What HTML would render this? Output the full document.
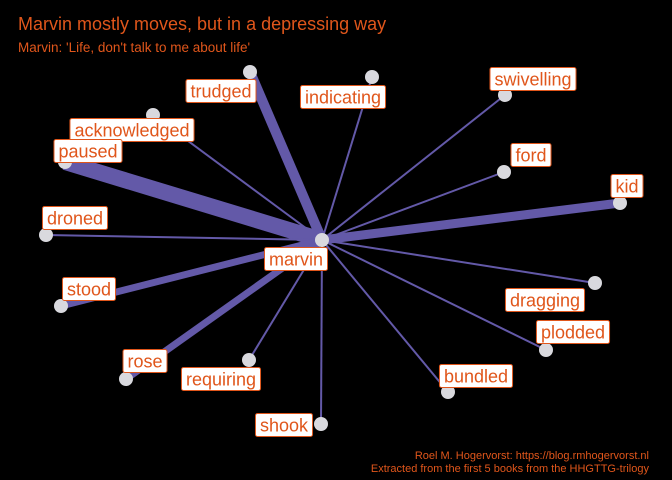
<!DOCTYPE html>
<html><head><meta charset="utf-8"><style>
body{margin:0;background:#000;}
svg{display:block;font-family:"Liberation Sans",sans-serif;}
</style></head><body>
<svg id="chart" width="672" height="480" viewBox="0 0 672 480">
<rect width="672" height="480" fill="#000"/>
<text x="18" y="30" fill="#e0561b" font-size="18">Marvin mostly moves, but in a depressing way</text>
<text x="18" y="52" fill="#e0561b" font-size="13.5">Marvin: 'Life, don't talk to me about life'</text>
<g id="edges"></g><g id="nodes"></g><g id="labels"></g>
<text x="649" y="459" fill="#e0561b" font-size="11" text-anchor="end">Roel M. Hogervorst: https://blog.rmhogervorst.nl</text>
<text x="649" y="472" fill="#e0561b" font-size="11" text-anchor="end">Extracted from the first 5 books from the HHGTTG-trilogy</text>
</svg>
<script>
const words=["trudged","indicating","swivelling","acknowledged","paused","ford","kid","droned","stood","dragging","plodded","rose","requiring","bundled","shook"];
const nodeX=[250,372,505,153,65,504,620,46,61,595,546,126,249,448,321];
const nodeY=[72,77,95,115,162,172,203,235,306,283,350,379,360,392,424];
const weights=[5,1,1,1,8,1,4.5,1,3.5,1,1,3.5,1,1,1];
const labelX=[221,343,533,132,88,531,627,75,89,545,573,145,221,476,284];
const labelY=[91,97,79,130,151,155,186,218,289,300,332,361,379,376,425];
const center={x:322,y:240};
const ns="http://www.w3.org/2000/svg";
const E=document.getElementById('edges'),N=document.getElementById('nodes'),L=document.getElementById('labels');
function w(v){return v*2;}
function addLabel(t,x,y,name){
  const g=document.createElementNS(ns,'g');
  
  
  const tx=document.createElementNS(ns,'text');
  tx.setAttribute('x',x);tx.setAttribute('y',y+6.5);tx.setAttribute('text-anchor','middle');
  tx.setAttribute('font-size','18');tx.setAttribute('fill','#e0561b');tx.textContent=t;
  const r=document.createElementNS(ns,'rect');
  g.appendChild(r);g.appendChild(tx);L.appendChild(g);
  const bw=tx.getComputedTextLength()+9;
  r.setAttribute('x',x-bw/2);r.setAttribute('y',y-11.5);r.setAttribute('width',bw);r.setAttribute('height',23);
  r.setAttribute('rx',2);r.setAttribute('fill','#fff');r.setAttribute('stroke','#e0561b');
}
words.forEach((wd,i)=>{
  const l=document.createElementNS(ns,'line');
  
  
  l.setAttribute('x1',center.x);l.setAttribute('y1',center.y);l.setAttribute('x2',nodeX[i]);l.setAttribute('y2',nodeY[i]);
  l.setAttribute('stroke','#6359a8');l.setAttribute('stroke-width',w(weights[i]));
  E.appendChild(l);
  const c=document.createElementNS(ns,'circle');
  
  
  c.setAttribute('cx',nodeX[i]);c.setAttribute('cy',nodeY[i]);c.setAttribute('r',7);c.setAttribute('fill','#d9d9de');
  N.appendChild(c);
});
const cc=document.createElementNS(ns,'circle');


cc.setAttribute('cx',center.x);cc.setAttribute('cy',center.y);cc.setAttribute('r',7);cc.setAttribute('fill','#d9d9de');
N.appendChild(cc);
words.forEach((wd,i)=>addLabel(wd,labelX[i],labelY[i],'label-'+wd));
addLabel('marvin',296,259,'label-marvin');
</script>
</body></html>
